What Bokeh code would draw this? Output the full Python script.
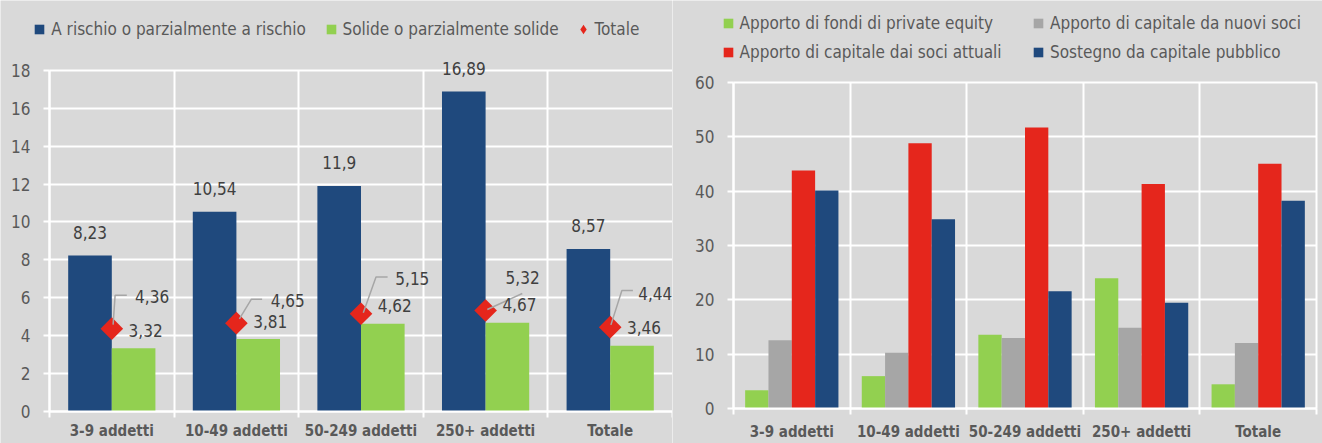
import numpy as np
from bokeh.plotting import figure
from bokeh.layouts import row
from bokeh.models import (ColumnDataSource, LabelSet, Legend, LegendItem,
                          FixedTicker, Range1d)
from bokeh.core.properties import value
from bokeh.embed import file_html
from bokeh.resources import INLINE

# ---------------- data ----------------
categories = ["3-9 addetti", "10-49 addetti", "50-249 addetti", "250+ addetti", "Totale"]

left_series = ["A rischio o parzialmente a rischio", "Solide o parzialmente solide", "Totale"]
a_rischio = [8.23, 10.54, 11.9, 16.89, 8.57]
solide = [3.32, 3.81, 4.62, 4.67, 3.46]
totale = [4.36, 4.65, 5.15, 5.32, 4.44]
left_yticks = [0, 2, 4, 6, 8, 10, 12, 14, 16, 18]

right_series = ["Apporto di fondi di private equity", "Apporto di capitale da nuovi soci",
                "Apporto di capitale dai soci attuali", "Sostegno da capitale pubblico"]
private_equity = [3.4, 6.0, 13.6, 24.0, 4.5]
nuovi_soci = [12.6, 10.3, 13.0, 14.9, 12.1]
soci_attuali = [43.8, 48.8, 51.7, 41.3, 45.0]
capitale_pubblico = [40.1, 34.8, 21.6, 19.5, 38.2]
right_yticks = [0, 10, 20, 30, 40, 50, 60]

# ---------------- style ----------------
BG = "#D9D9D9"
TXT = "#595959"
LBL = "#404040"
BLUE = "#1F497D"
GREEN = "#92D050"
RED = "#E5261C"
GREY = "#A6A6A6"
FONT = "DejaVu Sans Condensed, DejaVu Sans, sans-serif"
FS = "17px"
FS_CAT = "15px"
H = 443

# manual label / leader placement for "Totale" (pixels, y downwards)
lead_start = [(1.3, -4), (3, -4.3), (2.3, -1), (1.7, -1), (0.7, -2.3)]
lead_elbow = [(3.3, -33.3), (15, -24), (15, -36.7), (36.7, -17), (11.7, -36.6)]
lead_end = [(15, -33.3), (25.7, -24), (26.6, -36.7), (36.7, -17), (22.7, -36.6)]
tot_dx = [23.3, 34.3, 34.3, 20, 28]
tot_dy = [-32.3, -23, -35.7, -32.6, -34]


def fmt(v):
    return str(v).replace(".", ",")


n = len(categories)
centers = np.arange(n)
bounds = [i - 0.5 for i in range(n + 1)]


def make_fig(width, ymax, yticks, top_px, zero_px, pad_left, pad_right, cat_standoff):
    """The frame fills the whole figure; the plot area proper spans from pad_left to
    width - pad_right horizontally and from top_px (ymax) to zero_px (0) vertically."""
    pxx = (width - pad_left - pad_right) / n
    pxy = (zero_px - top_px) / ymax
    p = figure(width=width, height=H,
               x_range=Range1d(-0.5 - pad_left / pxx, n - 0.5 + pad_right / pxx),
               y_range=Range1d(-(H - zero_px) / pxy, ymax + top_px / pxy),
               output_backend="svg", toolbar_location=None,
               min_border_left=0, min_border_right=0, min_border_top=0,
               min_border_bottom=0, background_fill_color=BG, border_fill_color=BG,
               outline_line_color=None)
    p.title.visible = False
    for g in (p.xgrid[0], p.ygrid[0]):
        g.grid_line_color = "white"
        g.grid_line_width = 2
    p.xgrid[0].ticker = FixedTicker(ticks=bounds)
    p.xgrid[0].cross_bounds = (0, ymax)
    p.ygrid[0].ticker = FixedTicker(ticks=yticks)
    p.ygrid[0].cross_bounds = (-0.5, n - 0.5)
    xa = p.xaxis[0]
    ya = p.yaxis[0]
    xa.fixed_location = 0
    xa.bounds = (-0.5, n - 0.5)
    xa.ticker = FixedTicker(ticks=list(centers), minor_ticks=bounds)
    xa.major_label_overrides = {int(i): c for i, c in zip(centers, categories)}
    xa.major_tick_line_color = None
    xa.major_tick_out = 0
    xa.major_tick_in = 0
    xa.minor_tick_line_color = "white"
    xa.minor_tick_line_width = 2
    xa.minor_tick_out = 6
    xa.minor_tick_in = 0
    xa.major_label_standoff = cat_standoff
    xa.major_label_text_font = FONT
    xa.major_label_text_font_size = FS_CAT
    xa.major_label_text_font_style = "bold"
    xa.major_label_text_color = TXT
    ya.fixed_location = -0.5
    ya.ticker = FixedTicker(ticks=yticks)
    ya.bounds = (0, ymax)
    ya.major_tick_line_color = "white"
    ya.major_tick_line_width = 2
    ya.major_tick_out = 6
    ya.major_tick_in = 0
    ya.minor_tick_line_color = None
    ya.major_label_text_font = FONT
    ya.major_label_text_font_size = FS
    ya.major_label_text_color = TXT
    ya.major_label_standoff = 13
    for ax in (xa, ya):
        ax.axis_line_color = "white"
        ax.axis_line_width = 2
    return p, pxx, pxy


def add_legend(p, renderers, labels, loc, standoff=-2):
    items = [LegendItem(label=l, renderers=[r]) for l, r in zip(labels, renderers)]
    p.add_layout(Legend(items=items, location=loc, orientation="vertical",
                        glyph_width=24, glyph_height=24, label_height=24, label_width=10,
                        label_standoff=standoff, spacing=5, padding=0, margin=0,
                        border_line_color=None, background_fill_alpha=0,
                        label_text_font=FONT, label_text_font_size=FS,
                        label_text_color=TXT))


# ================= left chart =================
p1, PXX, PXY = make_fig(672, 18, left_yticks, 70, 410.7, 49, 0, 5)
xb = centers - 0.175
xg = centers + 0.175
p1.vbar(x=xb, top=a_rischio, width=0.35, fill_color=BLUE, line_color=None)
p1.vbar(x=xg, top=solide, width=0.35, fill_color=GREEN, line_color=None)
p1.scatter(x=centers, y=totale, marker="square", angle=np.pi / 4, size=16,
           fill_color=RED, line_color=None)

# leader lines (pixel offsets converted through the frame scale)
lx, ly = [], []
for i, v in enumerate(totale):
    pts = [lead_start[i], lead_elbow[i], lead_end[i]]
    lx.append([centers[i] + dx / PXX for dx, dy in pts])
    ly.append([v - dy / PXY for dx, dy in pts])
p1.multi_line(lx, ly, line_color=GREY, line_width=1.5)

# data labels
sb = ColumnDataSource(dict(x=xb, y=a_rischio, t=[fmt(v) for v in a_rischio]))
p1.add_layout(LabelSet(x="x", y="y", text="t", source=sb, y_offset=23,
                       text_align="center", text_baseline="middle",
                       text_font=value(FONT), text_font_size=value(FS), text_color=LBL))
sg = ColumnDataSource(dict(x=xg, y=solide, t=[fmt(v) for v in solide]))
p1.add_layout(LabelSet(x="x", y="y", text="t", source=sg, x_offset=12, y_offset=18,
                       text_align="center", text_baseline="middle",
                       text_font=value(FONT), text_font_size=value(FS), text_color=LBL))
st = ColumnDataSource(dict(x=centers, y=totale, t=[fmt(v) for v in totale],
                           dx=tot_dx, dy=[-d for d in tot_dy]))
p1.add_layout(LabelSet(x="x", y="y", text="t", source=st, x_offset="dx", y_offset="dy",
                       text_align="left", text_baseline="middle",
                       text_font=value(FONT), text_font_size=value(FS), text_color=LBL))

# legend proxies (size 0 -> only visible in the legend)
lr1 = p1.scatter(x=xb, y=a_rischio, marker="square", size=0, fill_color=BLUE, line_color=None)
lr2 = p1.scatter(x=xg, y=solide, marker="square", size=0, fill_color=GREEN, line_color=None)
lr3 = p1.scatter(x=centers, y=totale, marker="diamond", size=0, fill_color=RED, line_color=None)
add_legend(p1, [lr1], [left_series[0]], (27.3, H - 41.3))
add_legend(p1, [lr2], [left_series[1]], (318.5, H - 41.3))
add_legend(p1, [lr3], [left_series[2]], (570.5, H - 41.3), standoff=-3)

# ================= right chart =================
p2, _, _ = make_fig(650, 60, right_yticks, 81.7, 408.3, 61, 6, 8)
right_vals = [private_equity, nuovi_soci, soci_attuali, capitale_pubblico]
right_cols = [GREEN, GREY, RED, BLUE]
offsets = [-0.3, -0.1, 0.1, 0.3]
proxies = []
for vals, col, off in zip(right_vals, right_cols, offsets):
    p2.vbar(x=centers + off, top=vals, width=0.2, fill_color=col, line_color=None)
    proxies.append(p2.scatter(x=centers + off, y=vals, marker="square", size=0,
                              fill_color=col, line_color=None))
add_legend(p2, [proxies[0], proxies[2]], [right_series[0], right_series[2]],
           (43.5, H - 63.8))
add_legend(p2, [proxies[1], proxies[3]], [right_series[1], right_series[3]],
           (354, H - 63.8))

layout = row(p1, p2)
open("out.html", "w").write(file_html(layout, INLINE))
